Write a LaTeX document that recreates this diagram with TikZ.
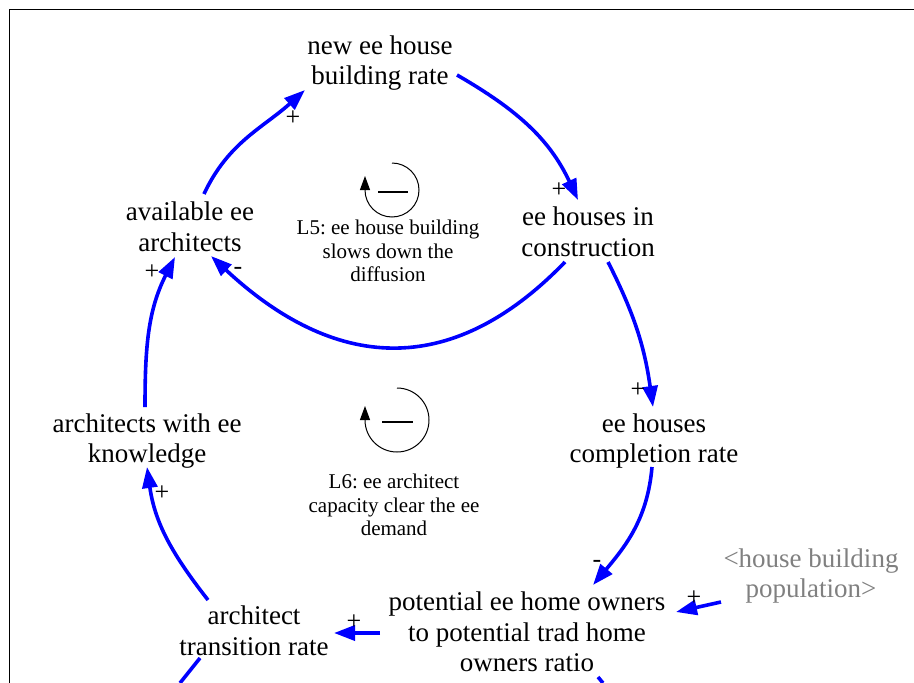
\documentclass[tikz,border=0pt]{standalone}
\usepackage{fontspec}
\setmainfont{Liberation Serif}
\usetikzlibrary{arrows.meta,calc}
\definecolor{linkblue}{RGB}{0,0,255}
\definecolor{greytext}{RGB}{128,128,128}
\frenchspacing
\tikzset{
  txt/.style={align=center,inner sep=0pt,font=\fontsize{27}{30.5}\selectfont},
  gtext/.style={text=greytext},
  looptxt/.style={align=center,inner sep=0pt,font=\fontsize{21}{23.5}\selectfont},
  pol/.style={inner sep=0pt,font=\fontsize{26}{26}\selectfont},
  link/.style={draw=linkblue,line width=3.6pt,-{Triangle[length=21pt,width=15pt]}},
  freelink/.style={draw=linkblue,line width=3.6pt},
  loopsym/.style={draw=black,line width=1pt,-{Triangle[length=14pt,width=10pt]}},
  loopbar/.style={draw=black,line width=2pt},
  frame/.style={draw=black,line width=1.3pt}
}
\begin{document}
\begin{tikzpicture}[x=1pt,y=1pt]
\useasboundingbox (0,0) rectangle (914,-683);
\draw[frame] (9.5,-683) -- (9.5,-9.5) -- (914,-9.5);

% variables
\node[txt] (nhr) at (380,-63) {new ee house\\building rate};
\node[txt] (ehc) at (588,-232) {ee houses in\\construction};
\node[txt] (ava) at (190,-227) {available ee\\architects};
\node[txt] (awk) at (147,-441) {architects with ee\\knowledge};
\node[txt] (ehcr) at (654,-441) {ee houses\\completion rate};
\node[txt] (atr) at (254,-631) {architect\\transition rate};
\node[txt] (ratio) at (527,-632) {potential ee home owners\\to potential trad home\\owners ratio};
\node[txt,gtext] (hbp) at (811,-576) {<house building\\population>};

% free ends
\coordinate (c10) at (180,-683);
\coordinate (c11) at (603,-683);

% links
\draw[link] ($(ava)+(14,33)$) to[out=65,in=222] ($(nhr)+(-75,-27)$);
\draw[link] ($(nhr)+(77,-12)$) to[out=-30,in=115] ($(ehc)+(-10,32)$);
\draw[link] ($(ehc)+(-23,-30)$) to[out=-134,in=-43,looseness=1.2] ($(ava)+(21,-29)$);
\draw[link] ($(ehc)+(20,-30)$) to[out=-63,in=98] ($(ehcr)+(-1,34)$);
\draw[link] ($(ehcr)+(-2,-26)$) to[out=-95,in=50] ($(ratio)+(66,47)$);
\draw[link] ($(hbp)+(-90,-26)$) -- ($(ratio)+(149,20)$);
\draw[link] ($(ratio)+(-147,-1)$) -- ($(atr)+(80,-2)$);
\draw[link] ($(atr)+(-46,31)$) to[out=128,in=-82] ($(awk)+(0,-26)$);
\draw[link] ($(awk)+(-2,34)$) to[out=90,in=243] ($(ava)+(-15,-30)$);
\draw[freelink] ($(atr)+(-54,-27)$) -- (c10);
\draw[freelink] ($(ratio)+(71,-45)$) -- (c11);

% polarities
\node[pol] (p1) at (293,-118) {+};
\node[pol] (p2) at (559,-190) {+};
\node[pol] (p3) at (238,-271) {-};
\node[pol] (p4) at (638,-390) {+};
\node[pol] (p5) at (597,-564) {-};
\node[pol] (p6) at (694,-598) {+};
\node[pol] (p7) at (354,-622) {+};
\node[pol] (p8) at (162,-493) {+};
\node[pol] (p9) at (152,-272) {+};

% loop L5
\draw[loopsym] (392,-163) arc[start angle=90,end angle=-180,radius=27] -- ++(0,14);
\draw[loopbar] (378,-192) -- (408,-192);
\node[looptxt] (l5) at (388,-251) {L5: ee house building\\slows down the\\diffusion};

% loop L6
\draw[loopsym] (397,-388) arc[start angle=90,end angle=-180,radius=32] -- ++(0,14);
\draw[loopbar] (382,-422) -- (413,-422);
\node[looptxt] (l6) at (394,-505) {L6: ee architect\\capacity clear the ee\\demand};
\end{tikzpicture}
\end{document}
